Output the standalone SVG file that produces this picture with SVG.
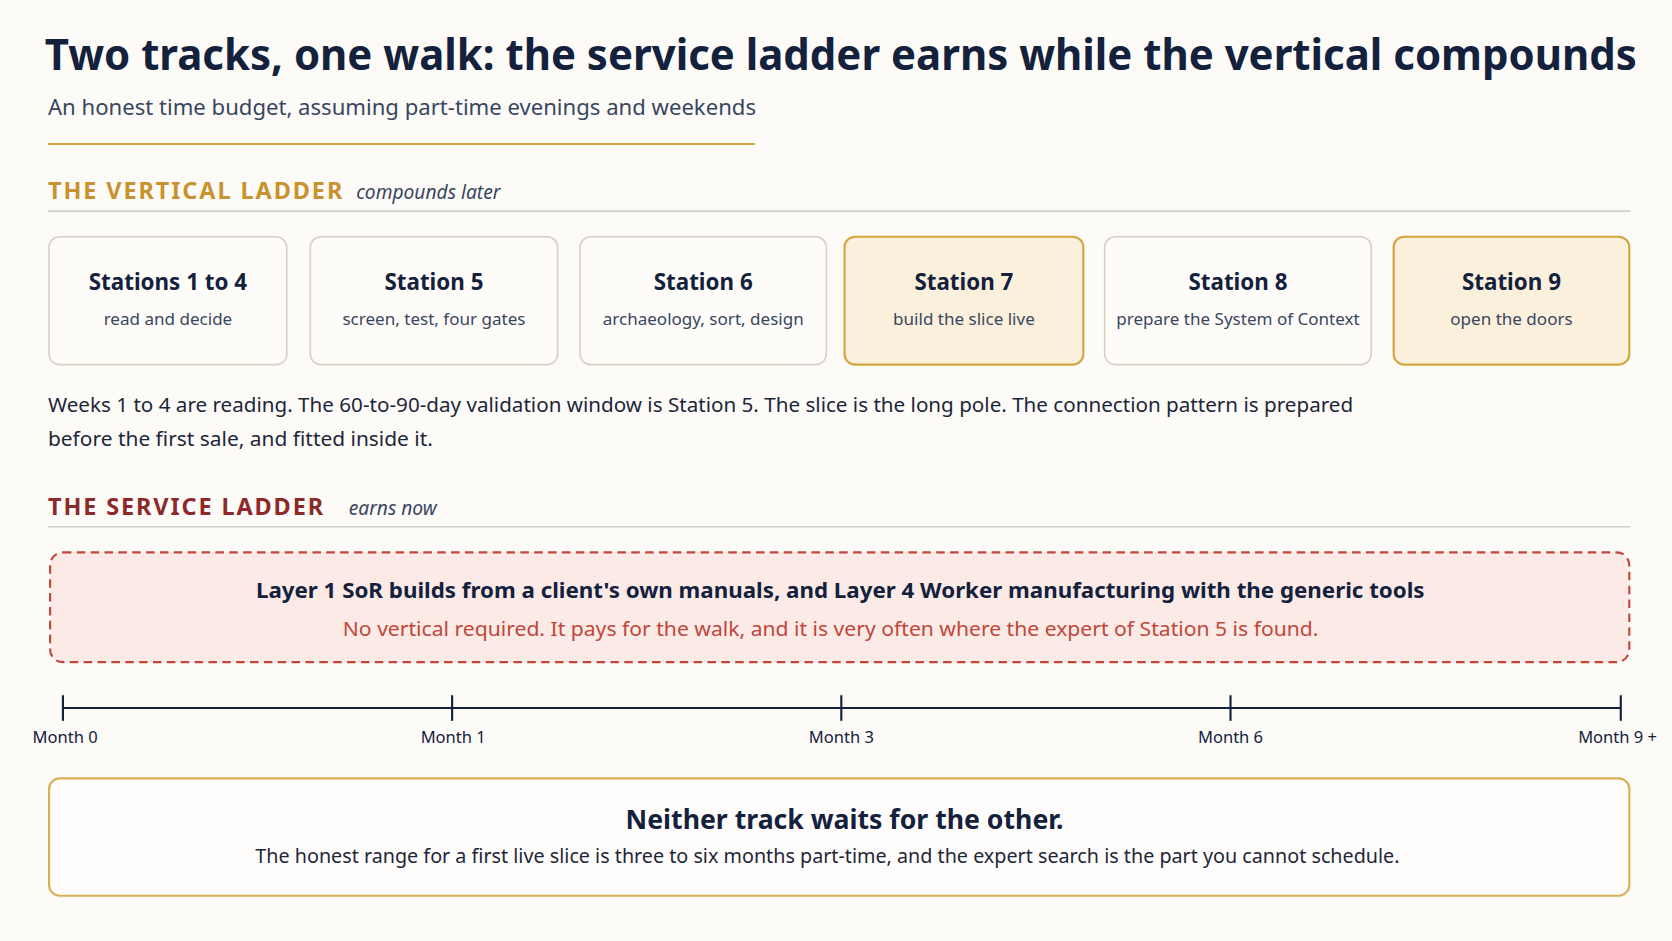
<svg xmlns="http://www.w3.org/2000/svg" width="1672" height="941" viewBox="0 0 1672 941">
<style>
text{font-family:"Noto Sans","Open Sans",sans-serif}
.t{font-size:21px;font-weight:700;fill:#14213d;text-anchor:middle}
.s{font-size:16px;fill:#3a4660;text-anchor:middle}
.box{fill:#fdfcf9;stroke:#d9cfc2;stroke-width:1.5}
.hl{fill:#fbf0dc;stroke:#d4a53c;stroke-width:2}
.tick{stroke:#14213d;stroke-width:2}
.ml{font-size:15.5px;fill:#14213d;text-anchor:middle}
</style>
<rect width="1672" height="941" fill="#fcfbf8"/>
<g transform="scale(1.0663)">
<text x="42" y="66" font-size="40" font-weight="700" fill="#14213d" textLength="1493" lengthAdjust="spacingAndGlyphs">Two tracks, one walk: the service ladder earns while the vertical compounds</text>
<text x="45" y="108" font-size="20" fill="#3a4660" textLength="664" lengthAdjust="spacingAndGlyphs">An honest time budget, assuming part-time evenings and weekends</text>
<line x1="45" y1="135" x2="708" y2="135" stroke="#d4a53c" stroke-width="2"/>
<text x="45" y="187" font-size="22" font-weight="700" fill="#c8922e" letter-spacing="1" textLength="277">THE VERTICAL LADDER</text>
<text x="334" y="187" font-size="18" font-style="italic" fill="#3a4660">compounds later</text>
<line x1="45" y1="198" x2="1529" y2="198" stroke="#cfcfcf" stroke-width="1.5"/>
<g id="n1"><rect class="box" x="46" y="222" width="223" height="120" rx="10"/><text class="t" x="157.5" y="272">Stations 1 to 4</text><text class="s" x="157.5" y="305">read and decide</text></g>
<g id="n5"><rect class="box" x="291" y="222" width="232" height="120" rx="10"/><text class="t" x="407" y="272">Station 5</text><text class="s" x="407" y="305">screen, test, four gates</text></g>
<g id="n6"><rect class="box" x="544" y="222" width="231" height="120" rx="10"/><text class="t" x="659.5" y="272">Station 6</text><text class="s" x="659.5" y="305">archaeology, sort, design</text></g>
<g id="n7"><rect class="hl" x="792" y="222" width="224" height="120" rx="10"/><text class="t" x="904" y="272">Station 7</text><text class="s" x="904" y="305">build the slice live</text></g>
<g id="n8"><rect class="box" x="1036" y="222" width="250" height="120" rx="10"/><text class="t" x="1161" y="272">Station 8</text><text class="s" x="1161" y="305">prepare the System of Context</text></g>
<g id="n9"><rect class="hl" x="1307" y="222" width="221" height="120" rx="10"/><text class="t" x="1417.5" y="272">Station 9</text><text class="s" x="1417.5" y="305">open the doors</text></g>
<text x="45" y="386" font-size="19" fill="#1e2638" textLength="1224" lengthAdjust="spacingAndGlyphs">Weeks 1 to 4 are reading. The 60-to-90-day validation window is Station 5. The slice is the long pole. The connection pattern is prepared</text>
<text x="45" y="418" font-size="19" fill="#1e2638" textLength="361" lengthAdjust="spacingAndGlyphs">before the first sale, and fitted inside it.</text>
<text x="45" y="483" font-size="22" font-weight="700" fill="#8c2a2a" letter-spacing="1" textLength="259">THE SERVICE LADDER</text>
<text x="327" y="483" font-size="18" font-style="italic" fill="#3a4660">earns now</text>
<line x1="45" y1="494" x2="1529" y2="494" stroke="#cfcfcf" stroke-width="1.5"/>
<g id="service"><rect x="47" y="518" width="1481" height="103" rx="12" fill="#fbeae6" stroke="#c0473a" stroke-width="2" stroke-dasharray="8 5"/>
<text x="788" y="561" font-size="20" font-weight="700" fill="#14213d" text-anchor="middle" textLength="1096" lengthAdjust="spacingAndGlyphs">Layer 1 SoR builds from a client's own manuals, and Layer 4 Worker manufacturing with the generic tools</text>
<text x="779" y="596" font-size="18" fill="#c0473a" text-anchor="middle" textLength="915" lengthAdjust="spacingAndGlyphs">No vertical required. It pays for the walk, and it is very often where the expert of Station 5 is found.</text></g>
<g id="timeline">
<line class="tick" x1="59" y1="664" x2="1520" y2="664"/>
<line class="tick" x1="59" y1="652" x2="59" y2="676"/><line class="tick" x1="424" y1="652" x2="424" y2="676"/><line class="tick" x1="789" y1="652" x2="789" y2="676"/><line class="tick" x1="1154" y1="652" x2="1154" y2="676"/><line class="tick" x1="1520" y1="652" x2="1520" y2="676"/>
<text class="ml" x="61" y="697">Month 0</text><text class="ml" x="425" y="697">Month 1</text><text class="ml" x="789" y="697">Month 3</text><text class="ml" x="1154" y="697">Month 6</text><text class="ml" x="1517" y="697">Month 9 +</text>
</g>
<g id="footer"><rect x="46" y="730" width="1482" height="110" rx="10" fill="#fefdfb" stroke="#d9b055" stroke-width="2"/>
<text x="792" y="777" font-size="25" font-weight="700" fill="#14213d" text-anchor="middle">Neither track waits for the other.</text>
<text x="776" y="809" font-size="18" fill="#1e2638" text-anchor="middle" textLength="1073" lengthAdjust="spacingAndGlyphs">The honest range for a first live slice is three to six months part-time, and the expert search is the part you cannot schedule.</text></g>
</g>
</svg>
